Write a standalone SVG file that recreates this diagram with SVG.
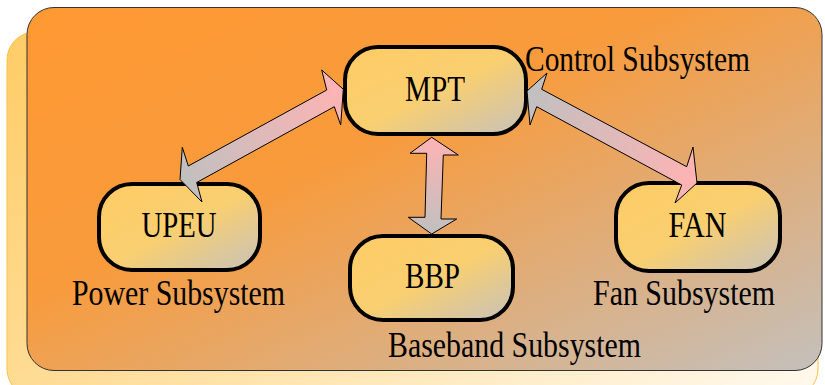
<svg xmlns="http://www.w3.org/2000/svg" width="825" height="385" viewBox="0 0 825 385">
<defs>
<linearGradient id="gShadow" x1="0" y1="0" x2="1" y2="1">
<stop offset="0" stop-color="#FFCC66"/>
<stop offset="0.5" stop-color="#FFDC95"/>
<stop offset="1" stop-color="#FFFAF0"/>
</linearGradient>
<linearGradient id="gPanel" x1="0" y1="0" x2="1" y2="1">
<stop offset="0" stop-color="#FF9933"/>
<stop offset="0.4" stop-color="#F89B3C"/>
<stop offset="1" stop-color="#C4C0BC"/>
</linearGradient>
<linearGradient id="gNode" x1="0" y1="0" x2="1" y2="1">
<stop offset="0" stop-color="#FFCC66"/>
<stop offset="0.5" stop-color="#F9CF70"/>
<stop offset="1" stop-color="#C8C2BA"/>
</linearGradient>
<linearGradient id="gA1" gradientUnits="userSpaceOnUse" x1="343" y1="89" x2="180" y2="180">
<stop offset="0" stop-color="#FFB3B3"/>
<stop offset="1" stop-color="#C0C0C0"/>
</linearGradient>
<linearGradient id="gA2" gradientUnits="userSpaceOnUse" x1="527" y1="91" x2="697" y2="183">
<stop offset="0" stop-color="#C0C0C0"/>
<stop offset="1" stop-color="#FFB3B3"/>
</linearGradient>
<linearGradient id="gA3" gradientUnits="userSpaceOnUse" x1="432" y1="137" x2="432" y2="234">
<stop offset="0" stop-color="#FFB3B3"/>
<stop offset="1" stop-color="#C0C0C0"/>
</linearGradient>
<style>
.node{fill:url(#gNode);stroke:#000;stroke-width:4}
.arrow{stroke:#000;stroke-width:1;stroke-linejoin:miter}
.t{font-family:"Liberation Serif","Times New Roman",serif;font-size:36px;fill:#000}
.c{text-anchor:middle}
</style>
</defs>
<g id="background">
<rect x="7" y="32" width="811" height="365" rx="28" fill="url(#gShadow)" stroke="#FFC040" stroke-width="1"/>
<rect x="27" y="7.5" width="795" height="363" rx="27" fill="url(#gPanel)" stroke="#333" stroke-width="1"/>
</g>
<g id="node-mpt">
<rect class="node" x="345" y="47" width="181" height="87" rx="33"/>
<text class="t c" x="435" y="101" textLength="60" lengthAdjust="spacingAndGlyphs">MPT</text>
</g>
<g id="node-upeu">
<rect class="node" x="99" y="184" width="161" height="86" rx="33"/>
<text class="t c" x="179" y="237" textLength="75" lengthAdjust="spacingAndGlyphs">UPEU</text>
</g>
<g id="node-bbp">
<rect class="node" x="350" y="236" width="163" height="84" rx="33"/>
<text class="t c" x="432.5" y="288" textLength="55" lengthAdjust="spacingAndGlyphs">BBP</text>
</g>
<g id="node-fan">
<rect class="node" x="616" y="183" width="164" height="88" rx="33"/>
<text class="t c" x="697.5" y="237" textLength="58" lengthAdjust="spacingAndGlyphs">FAN</text>
</g>
<g id="connectors">
<polygon class="arrow" fill="url(#gA1)" points="343.3,89.3 340.7,125 334.3,106.7 196.7,182.5 202,202 180,179.5 182.3,147.3 188.3,166 326.7,90 321.7,70"/>
<polygon class="arrow" fill="url(#gA2)" points="527,91 547,73 541.7,89.3 686.7,166.7 693,147 697,183 675,203 681.7,185 536.7,106.7 530,125"/>
<polygon class="arrow" fill="url(#gA3)" points="431.7,137.3 458.3,155 443.3,155 441,219 456.7,219 431.7,234 408.3,217.3 425,217.3 426.7,153.3 410,153.3"/>
</g>
<g id="labels">
<text class="t" x="525" y="71" textLength="225" lengthAdjust="spacingAndGlyphs">Control Subsystem</text>
<text class="t" x="72" y="305" textLength="213" lengthAdjust="spacingAndGlyphs">Power Subsystem</text>
<text class="t" x="593" y="305" textLength="182" lengthAdjust="spacingAndGlyphs">Fan Subsystem</text>
<text class="t" x="388" y="357" textLength="253" lengthAdjust="spacingAndGlyphs">Baseband Subsystem</text>
</g>
</svg>
